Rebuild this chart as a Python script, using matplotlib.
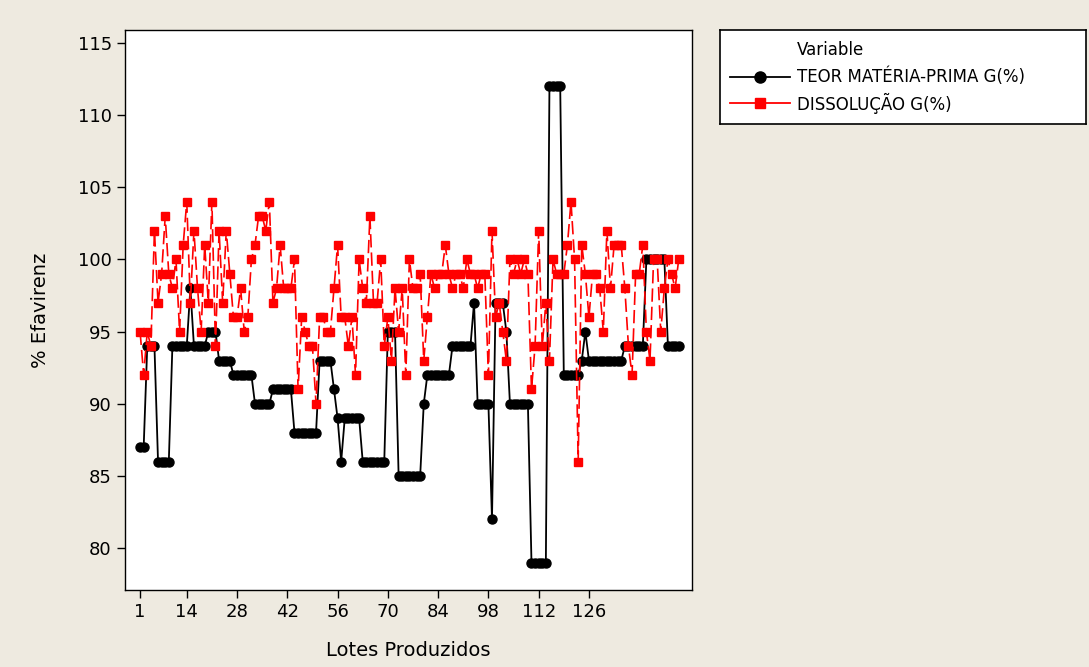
import matplotlib
matplotlib.use("Agg")
import matplotlib.pyplot as plt
from matplotlib.lines import Line2D
import numpy as np

plt.rcParams['font.family'] = ['DejaVu Sans']

# ---- data ----
lotes = list(range(1, 152))

teor_mp = ([87]*2 + [94]*3 + [86]*4 + [94]*5 + [98] + [94]*4 + [95]*3 + [93]*4 +
           [92]*6 + [90]*5 + [91]*6 + [88]*7 + [93]*4 + [91] + [89] + [86] +
           [89]*5 + [86]*7 + [95]*3 + [85]*7 + [90] + [92]*7 + [94]*6 + [97] +
           [90]*4 + [82] + [97]*3 + [95] + [90]*6 + [79]*5 + [112]*4 + [92]*5 +
           [93] + [95] + [93]*10 + [94]*6 + [100]*6 + [94]*4)

dissolucao = [95, 92, 95, 94, 102, 97, 99, 103, 99, 98,
              100, 95, 101, 104, 97, 102, 98, 95, 101, 97,
              104, 94, 102, 97, 102, 99, 96, 96, 98, 95,
              96, 100, 101, 103, 103, 102, 104, 97, 98, 101,
              98, 98, 98, 100, 91, 96, 95, 94, 94, 90,
              96, 96, 95, 95, 98, 101, 96, 96, 94, 96,
              92, 100, 98, 97, 103, 97, 97, 100, 94, 96,
              93, 98, 95, 98, 92, 100, 98, 98, 99, 93,
              96, 99, 98, 99, 99, 101, 99, 98, 99, 99,
              98, 100, 99, 99, 98, 99, 99, 92, 102, 96,
              97, 95, 93, 100, 99, 100, 99, 100, 99, 91,
              94, 102, 94, 97, 93, 100, 99, 99, 99, 101,
              104, 100, 86, 101, 99, 96, 99, 99, 98, 95,
              102, 98, 101, 101, 101, 98, 94, 92, 99, 99,
              101, 95, 93, 100, 100, 95, 98, 100, 99, 98, 100]

x_ticks = [1, 14, 28, 42, 56, 70, 84, 98, 112, 126]
y_ticks = [80, 85, 90, 95, 100, 105, 110, 115]
label_teor = "TEOR MATÉRIA-PRIMA G(%)"
label_diss = "DISSOLUÇÃO G(%)"

# ---- figure ----
W, H = 1089, 667
bg = '#EEEAE0'
fig = plt.figure(figsize=(W/100, H/100), dpi=100, facecolor=bg)
ax = fig.add_axes([125/W, 1-590/H, (692-125)/W, (590-30)/H])
ax.set_facecolor('white')

ax.plot(lotes, teor_mp, color='black', lw=1.3, marker='o', markersize=6.5,
        markerfacecolor='black', markeredgecolor='black', zorder=2)
ax.plot(lotes, dissolucao, color='#FF0000', lw=1.2, linestyle=(0, (8, 3)),
        marker='s', markersize=6.0, markerfacecolor='#FF0000',
        markeredgecolor='#FF0000', zorder=3)

ax.set_xlim(-3.2, 154.7)
ax.set_ylim(77.1, 115.9)
ax.set_xticks(x_ticks)
ax.set_yticks(y_ticks)
ax.tick_params(direction='out', length=6, width=1, labelsize=13, colors='black')
for s in ax.spines.values():
    s.set_linewidth(1.0)
    s.set_color('black')
ax.set_xlabel('Lotes Produzidos', fontsize=14, labelpad=14)
ax.set_ylabel('% Efavirenz', fontsize=14, labelpad=20)

# ---- legend box ----
lx0, ly0, lx1, ly1 = 720, 30, 1086, 124
lax = fig.add_axes([lx0/W, 1-ly1/H, (lx1-lx0)/W, (ly1-ly0)/H])
lax.set_xlim(0, lx1-lx0)
lax.set_ylim(ly1-ly0, 0)
lax.set_xticks([]); lax.set_yticks([])
lax.set_facecolor('white')
for s in lax.spines.values():
    s.set_linewidth(1.2)
    s.set_color('black')
tx = 797 - lx0
lax.text(tx, 50-ly0, 'Variable', fontsize=12, va='center', ha='left')
lax.add_line(Line2D([10, 70], [77-ly0, 77-ly0], color='black', lw=1.3))
lax.plot([40], [77-ly0], marker='o', color='black', markersize=8)
lax.text(tx, 77-ly0, label_teor, fontsize=12, va='center', ha='left')
lax.add_line(Line2D([10, 70], [103-ly0, 103-ly0], color='#FF0000', lw=1.3))
lax.plot([40], [103-ly0], marker='s', color='#FF0000', markersize=7)
lax.text(tx, 103-ly0, label_diss, fontsize=12, va='center', ha='left')

fig.savefig('out.png', dpi=100, facecolor=bg)
